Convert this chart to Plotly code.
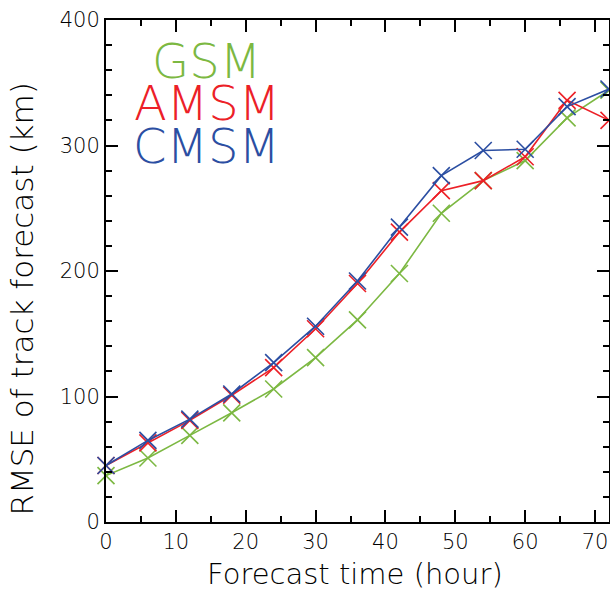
import plotly.graph_objects as go

hours = [0, 6, 12, 18, 24, 30, 36, 42, 48, 54, 60, 66, 72]
gsm = [37, 51, 69, 87, 106, 131, 161, 198, 246, 272, 288, 322, 344]
amsm = [45, 63, 81, 101, 123, 154, 190, 231, 264, 272, 291, 336, 320]
cmsm = [45, 65, 82, 102, 127, 156, 192, 235, 276, 296, 297, 331, 345]

names = ["GSM", "AMSM", "CMSM"]
colors = ["#7cb842", "#ec2027", "#2b4ea2"]
series = [gsm, amsm, cmsm]

x_title = "Forecast time (hour)"
y_title = "RMSE of track forecast (km)"

FONT = "DejaVu Sans"

fig = go.Figure()
for name, vals, col in zip(names, series, colors):
    fig.add_trace(go.Scatter(
        x=hours, y=vals, mode="lines+markers", name=name,
        line=dict(color=col, width=1.6),
        marker=dict(symbol="x-thin", size=17, line=dict(color=col, width=1.6)),
        cliponaxis=False,
    ))

for i, (name, col) in enumerate(zip(names, colors)):
    fig.add_annotation(
        xref="paper", yref="paper", x=0.2, y=0.918 - i * 0.084,
        text=name, showarrow=False, xanchor="center", yanchor="middle",
        font=dict(family=FONT, size=48, color=col, weight=200),
    )

# axis titles
fig.add_annotation(
    xref="paper", yref="paper", x=0.496, y=-0.104,
    text=x_title, showarrow=False, xanchor="center", yanchor="middle",
    font=dict(family=FONT, size=29, color="black", weight=200),
)
fig.add_annotation(
    xref="paper", yref="paper", x=-0.167, y=0.445, textangle=-90,
    text=y_title, showarrow=False, xanchor="center", yanchor="middle",
    font=dict(family=FONT, size=31, color="black", weight=200),
)

axis_common = dict(
    showline=True, linecolor="black", linewidth=2, mirror="allticks",
    ticks="inside", ticklen=12, tickwidth=1.5, tickcolor="black",
    showgrid=False, zeroline=False, automargin=False,
    tickfont=dict(family=FONT, size=21, color="black", weight=200),
)

fig.update_xaxes(
    range=[0, 72], tick0=0, dtick=10,
    minor=dict(dtick=5, ticks="inside", ticklen=6, tickwidth=1.5, tickcolor="black"),
    **axis_common,
)
fig.update_yaxes(
    range=[0, 400], tick0=0, dtick=100,
    minor=dict(dtick=20, ticks="inside", ticklen=6, tickwidth=1.5, tickcolor="black"),
    **axis_common,
)

fig.update_layout(
    width=610, height=592,
    margin=dict(l=106, r=1, t=20, b=70),
    paper_bgcolor="white", plot_bgcolor="white",
    showlegend=False,
)

fig.write_html(
    "out.html",
    config={"displayModeBar": False},
    post_script="document.body.style.margin='0';document.body.style.overflow='hidden';",
)
